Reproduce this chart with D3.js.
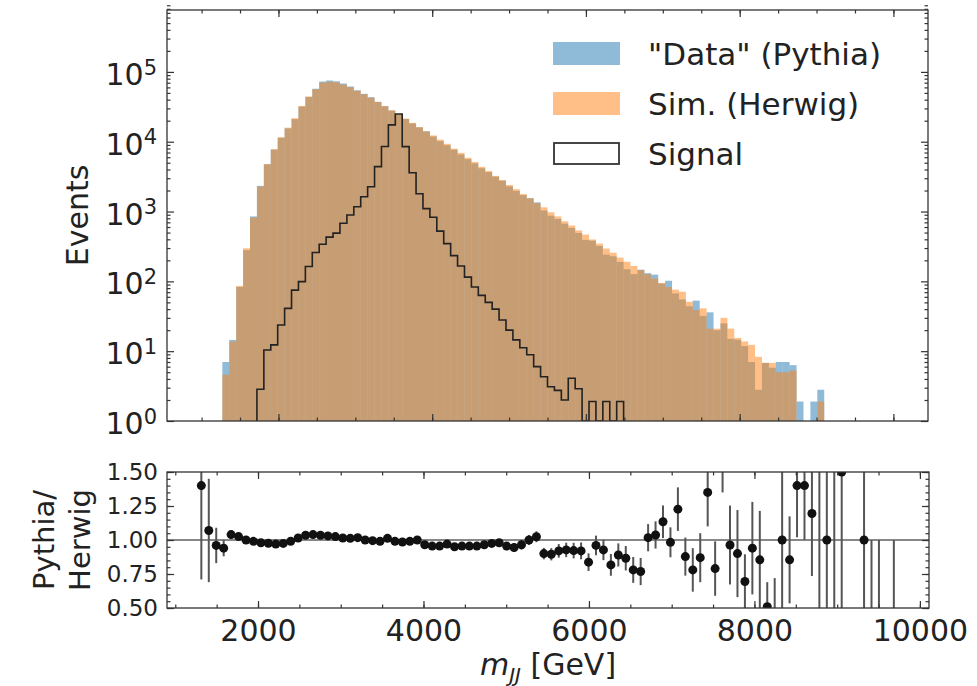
<!DOCTYPE html>
<html>
<head>
<meta charset="utf-8">
<script src="https://cdn.jsdelivr.net/npm/d3@7"></script>
<style>
  body { margin: 0; background: #fff; }
  svg text { font-family: 'DejaVu Sans', sans-serif; fill: #222; }
  .axis line { stroke: #333; stroke-width: 1.2; }
  .axis .domain { display: none; }
</style>
</head>
<body>
<svg id="chart" width="977" height="686"></svg>
<script>
// histogram binning: 100 bins of 90 GeV starting at 1000 GeV
const binStart = 1000;
const binWidth = 90;

// Sim. (Herwig) events per bin
const herwig = [
  0, 0, 0, 4.6, 13.7, 86, 298, 818, 2275, 4760,
  7800, 11600, 15900, 21700, 32600, 44300, 56500, 70300, 72400, 70800,
  66100, 60300, 53700, 47900, 42700, 37200, 32400, 28200, 24500, 21400,
  18600, 16200, 14100, 12300, 10700, 9330, 7940, 6920, 5890, 5130,
  4370, 3800, 3240, 2820, 2400, 2090, 1780, 1550, 1320, 1150,
  977, 851, 724, 631, 537, 468, 398, 347, 295, 257,
  219, 191, 166, 145, 126, 110, 95, 83, 76, 71,
  51, 39, 41, 21, 21, 30, 21, 15.5, 13.8, 12.3,
  8.3, 6.8, 6.8, 5.0, 5.0, 5.3, 0.5, 0.7, 0.5, 1.9,
  0, 0, 0.5, 0.4, 0.4, 0, 0.3, 0, 0, 0
];

// "Data" (Pythia) events per bin
const pythia = [
  0, 0, 0, 7.0, 14.5, 83, 280, 851, 2332, 4760,
  7722, 11368, 15518, 21049, 31785, 43857, 57348, 72761, 75296, 73278,
  68083, 61808, 54506, 48475, 43426, 37200, 32238, 27918, 24794, 21186,
  18321, 16038, 14100, 11870, 10219, 8910, 7702, 6574, 5625, 4899,
  4173, 3667, 3159, 2764, 2292, 1975, 1718, 1550, 1352, 1035,
  874, 783, 671, 582, 494, 392, 382, 322, 241, 229,
  190, 149, 127, 147, 131, 125, 93, 102, 67, 55,
  44, 53, 32, 36, 20, 25, 15, 14.6, 11.8, 7,
  2.8, 6.8, 5.8, 7.0, 7.0, 6.3, 1.9, 0.7, 1.9, 2.8,
  0, 0, 0.5, 0, 0, 0, 0, 0, 0, 0
];

// Signal events per bin
const signal = [
  0, 0, 0, 0, 0, 0, 0, 0, 2.85, 10.4,
  12.3, 23.7, 41, 75, 99, 163, 259, 340, 430, 490,
  680, 890, 1170, 1630, 2270, 4400, 8530, 17400, 25000, 8500,
  3600, 1800, 1100, 830, 525, 347, 234, 166, 115, 83,
  63, 50, 40, 28, 20, 14.5, 11.2, 8.9, 6.0, 4.3,
  3.1, 2.75, 2.0, 4.1, 2.9, 0, 1.9, 0, 1.9, 0,
  1.9, 0, 0, 0, 0, 0, 0, 0, 0, 0,
  0, 0, 0, 0, 0, 0, 0, 0, 0, 0,
  0, 0, 0, 0, 0, 0, 0, 0, 0, 0,
  0, 0, 0, 0, 0, 0, 0, 0, 0, 0
];

// Pythia/Herwig ratio per bin (null = no point)
const ratio = [
  null, null, null, 1.40, 1.07, 0.96, 0.94, 1.04, 1.025, 1.0,
  0.99, 0.98, 0.976, 0.97, 0.975, 0.99, 1.015, 1.035, 1.04, 1.035,
  1.03, 1.025, 1.015, 1.012, 1.017, 1.0, 0.995, 0.99, 1.012, 0.99,
  0.985, 0.99, 1.0, 0.965, 0.955, 0.955, 0.97, 0.95, 0.955, 0.955,
  0.955, 0.965, 0.975, 0.98, 0.955, 0.945, 0.965, 1.0, 1.024, 0.90,
  0.895, 0.92, 0.927, 0.922, 0.92, 0.837, 0.96, 0.927, 0.817, 0.89,
  0.866, 0.78, 0.768, 1.017, 1.037, 1.134, 0.983, 1.227, 0.878, 0.78,
  0.87, 1.35, 0.79, 1.7, 0.963, 0.90, 0.695, 0.94, 0.854, 0.51,
  0.34, 1.0, 0.854, 1.40, 1.40, 1.195, 3.8, 1.0, 3.8, 1.5,
  null, null, 1.0, 0, 0, null, 0, null, null, null
];

// ratio uncertainty per bin
const ratioErr = [
  null, null, null, 0.69, 0.38, 0.13, 0.06, 0.03, 0.02, 0.015,
  0.012, 0.01, 0.01, 0.008, 0.007, 0.006, 0.006, 0.005, 0.005, 0.005,
  0.006, 0.006, 0.006, 0.007, 0.007, 0.008, 0.008, 0.009, 0.009, 0.01,
  0.01, 0.011, 0.012, 0.013, 0.014, 0.015, 0.016, 0.017, 0.019, 0.02,
  0.022, 0.023, 0.025, 0.027, 0.03, 0.032, 0.035, 0.037, 0.04, 0.042,
  0.045, 0.05, 0.053, 0.057, 0.062, 0.065, 0.072, 0.075, 0.08, 0.085,
  0.09, 0.095, 0.1, 0.1, 0.1, 0.12, 0.11, 0.16, 0.14, 0.16,
  0.18, 0.25, 0.2, 0.35, 0.29, 0.32, 0.2, 0.34, 0.36, 0.18,
  0.38, 0.6, 0.32, 0.38, 0.40, 0.46, 3.5, 0.8, 3.4, 1.1,
  null, null, 0.9, 1.0, 1.0, null, 1.0, null, null, null
];

// ticks
const xTicks = [2000, 4000, 6000, 8000, 10000];
const xMinor = d3.range(1000, 10001, 500);
const yTicksTop = [1, 10, 100, 1000, 10000, 100000];
const yMinorTop = d3.range(0, 6).flatMap(k => d3.range(2, 10).map(m => m * Math.pow(10, k)));
const yTicksRatio = [0.5, 0.75, 1.0, 1.25, 1.5];
const yMinorRatio = d3.range(0.5, 1.501, 0.05);

const legendItems = ['"Data" (Pythia)', 'Sim. (Herwig)', 'Signal'];

// colores de matplotlib
const blue = '#1f77b4';
const orange = '#ff7f0e';

// paneles
const pTop = { l: 167, r: 928, t: 10, b: 421 };
const pBot = { l: 167, r: 929, t: 472, b: 608 };

const svg = d3.select('#chart');

const xTop = d3.scaleLinear().domain([550, 10450]).range([pTop.l, pTop.r]);
const yTop = d3.scaleLog().domain([1, 7.7e5]).range([pTop.b, pTop.t]);
const xBot = d3.scaleLinear().domain([900, 10110]).range([pBot.l, pBot.r]);
const yBot = d3.scaleLinear().domain([0.5, 1.5]).range([pBot.b, pBot.t]);

const edges = herwig.map((_, i) => binStart + i * binWidth);

// clip paths
const defs = svg.append('defs');
defs.append('clipPath').attr('id', 'clipTop').append('rect')
  .attr('x', pTop.l).attr('y', pTop.t).attr('width', pTop.r - pTop.l).attr('height', pTop.b - pTop.t);
defs.append('clipPath').attr('id', 'clipBot').append('rect')
  .attr('x', pBot.l).attr('y', pBot.t).attr('width', pBot.r - pBot.l).attr('height', pBot.b - pBot.t);

// ---------- top panel ----------
const gTop = svg.append('g').attr('clip-path', 'url(#clipTop)');

const histRects = (values, color) => {
  gTop.append('g').selectAll('rect')
    .data(values.map((v, i) => ({ v, i })).filter(d => d.v >= 1))
    .join('rect')
    .attr('x', d => xTop(edges[d.i]))
    .attr('width', d => xTop(edges[d.i] + binWidth) - xTop(edges[d.i]))
    .attr('y', d => yTop(d.v))
    .attr('height', d => yTop(1) - yTop(d.v))
    .attr('fill', color)
    .attr('fill-opacity', 0.5);
};
histRects(pythia, blue);
histRects(herwig, orange);

// signal como histograma de escalones
const first = signal.findIndex(v => v > 0);
const last = signal.length - 1 - [...signal].reverse().findIndex(v => v > 0);
const stepPts = [[edges[first], 1]];
for (let i = first; i <= last; i++) stepPts.push([edges[i], Math.max(signal[i], 1)]);
stepPts.push([edges[last] + binWidth, 1]);
gTop.append('path')
  .attr('d', d3.line().x(d => xTop(d[0])).y(d => yTop(d[1])).curve(d3.curveStepAfter)(stepPts))
  .attr('fill', 'none')
  .attr('stroke', '#222')
  .attr('stroke-width', 1.6);

// ejes del panel superior
const addAxis = (axis, tx, ty) => {
  const g = svg.append('g').attr('class', 'axis')
    .attr('transform', `translate(${tx},${ty})`)
    .call(axis);
  g.attr('font-family', null).attr('font-size', null);
  return g;
};

addAxis(d3.axisBottom(xTop).tickValues(xMinor).tickSize(-3.5).tickFormat(''), 0, pTop.b);
addAxis(d3.axisBottom(xTop).tickValues(xTicks).tickSize(-7).tickFormat(''), 0, pTop.b);
addAxis(d3.axisTop(xTop).tickValues(xMinor).tickSize(-3.5).tickFormat(''), 0, pTop.t);
addAxis(d3.axisTop(xTop).tickValues(xTicks).tickSize(-7).tickFormat(''), 0, pTop.t);
addAxis(d3.axisRight(yTop).tickValues(yMinorTop).tickSize(-3.5).tickFormat(''), pTop.r, 0);
addAxis(d3.axisRight(yTop).tickValues(yTicksTop).tickSize(-7).tickFormat(''), pTop.r, 0);
addAxis(d3.axisLeft(yTop).tickValues(yMinorTop).tickSize(-3.5).tickFormat(''), pTop.l, 0);

const yTopAxis = addAxis(d3.axisLeft(yTop).tickValues(yTicksTop).tickSize(-7).tickPadding(10), pTop.l, 0);
yTopAxis.selectAll('.tick text')
  .attr('font-size', 30)
  .attr('dy', '0.42em')
  .each(function(d) {
    const t = d3.select(this).text('');
    t.append('tspan').text('10');
    t.append('tspan').attr('dy', '-0.5em').attr('font-size', 21).text(Math.round(Math.log10(d)));
  });

svg.append('rect')
  .attr('x', pTop.l).attr('y', pTop.t)
  .attr('width', pTop.r - pTop.l).attr('height', pTop.b - pTop.t)
  .attr('fill', 'none').attr('stroke', '#333').attr('stroke-width', 1.3);

svg.append('text')
  .attr('transform', `translate(77,${(pTop.t + pTop.b) / 2}) rotate(-90)`)
  .attr('text-anchor', 'middle')
  .attr('dominant-baseline', 'central')
  .attr('font-size', 30)
  .text('Events');

// leyenda
const legendColors = [blue, orange, null];
const leg = svg.append('g').attr('transform', 'translate(553,42)');
legendItems.forEach((label, i) => {
  const row = leg.append('g').attr('transform', `translate(0,${i * 50})`);
  if (legendColors[i]) {
    row.append('rect').attr('width', 67).attr('height', 23)
      .attr('fill', legendColors[i]).attr('fill-opacity', 0.5);
  } else {
    row.append('rect').attr('x', 1).attr('y', 1).attr('width', 65).attr('height', 21)
      .attr('fill', '#fff').attr('stroke', '#333').attr('stroke-width', 1.8);
  }
  row.append('text').attr('x', 95).attr('y', 11.5)
    .attr('dominant-baseline', 'central')
    .attr('font-size', 31)
    .text(label);
});

// ---------- ratio panel ----------
const gBot = svg.append('g').attr('clip-path', 'url(#clipBot)');

gBot.append('line')
  .attr('x1', pBot.l).attr('x2', pBot.r)
  .attr('y1', yBot(1)).attr('y2', yBot(1))
  .attr('stroke', '#888').attr('stroke-width', 2);

const pts = ratio.map((r, i) => ({ r, e: ratioErr[i], x: edges[i] + binWidth / 2 })).filter(d => d.r !== null);

gBot.append('g').selectAll('line')
  .data(pts)
  .join('line')
  .attr('x1', d => xBot(d.x)).attr('x2', d => xBot(d.x))
  .attr('y1', d => yBot(d.r - d.e)).attr('y2', d => yBot(d.r + d.e))
  .attr('stroke', '#555').attr('stroke-width', 2);

gBot.append('g').selectAll('circle')
  .data(pts)
  .join('circle')
  .attr('cx', d => xBot(d.x))
  .attr('cy', d => yBot(d.r))
  .attr('r', 4.5)
  .attr('fill', '#111');

addAxis(d3.axisTop(xBot).tickValues(xMinor).tickSize(-3.5).tickFormat(''), 0, pBot.t);
addAxis(d3.axisTop(xBot).tickValues(xTicks).tickSize(-7).tickFormat(''), 0, pBot.t);
addAxis(d3.axisBottom(xBot).tickValues(xMinor).tickSize(-3.5).tickFormat(''), 0, pBot.b);
addAxis(d3.axisRight(yBot).tickValues(yMinorRatio).tickSize(-3.5).tickFormat(''), pBot.r, 0);
addAxis(d3.axisRight(yBot).tickValues(yTicksRatio).tickSize(-7).tickFormat(''), pBot.r, 0);
addAxis(d3.axisLeft(yBot).tickValues(yMinorRatio).tickSize(-3.5).tickFormat(''), pBot.l, 0);

const xBotAxis = addAxis(d3.axisBottom(xBot).tickValues(xTicks).tickSize(-7).tickPadding(12)
  .tickFormat(d3.format('d')), 0, pBot.b);
xBotAxis.selectAll('.tick text').attr('font-size', 30);

const yBotAxis = addAxis(d3.axisLeft(yBot).tickValues(yTicksRatio).tickSize(-7).tickPadding(9)
  .tickFormat(d3.format('.2f')), pBot.l, 0);
yBotAxis.selectAll('.tick text').attr('font-size', 23);

svg.append('rect')
  .attr('x', pBot.l).attr('y', pBot.t)
  .attr('width', pBot.r - pBot.l).attr('height', pBot.b - pBot.t)
  .attr('fill', 'none').attr('stroke', '#333').attr('stroke-width', 1.3);

// etiqueta del eje y del ratio, en dos líneas
[['Pythia/', 44], ['Herwig', 80]].forEach(([t, x]) => {
  svg.append('text')
    .attr('transform', `translate(${x},${(pBot.t + pBot.b) / 2}) rotate(-90)`)
    .attr('text-anchor', 'middle')
    .attr('dominant-baseline', 'central')
    .attr('font-size', 29)
    .text(t);
});

// etiqueta del eje x
const xl = svg.append('text')
  .attr('x', (pBot.l + pBot.r) / 2)
  .attr('y', 675)
  .attr('text-anchor', 'middle')
  .attr('font-size', 30);
xl.append('tspan').attr('font-style', 'italic').text('m');
xl.append('tspan').attr('font-style', 'italic').attr('font-size', 20).attr('dy', 7).text('JJ');
xl.append('tspan').attr('dy', -7).text(' [GeV]');
</script>
</body>
</html>
